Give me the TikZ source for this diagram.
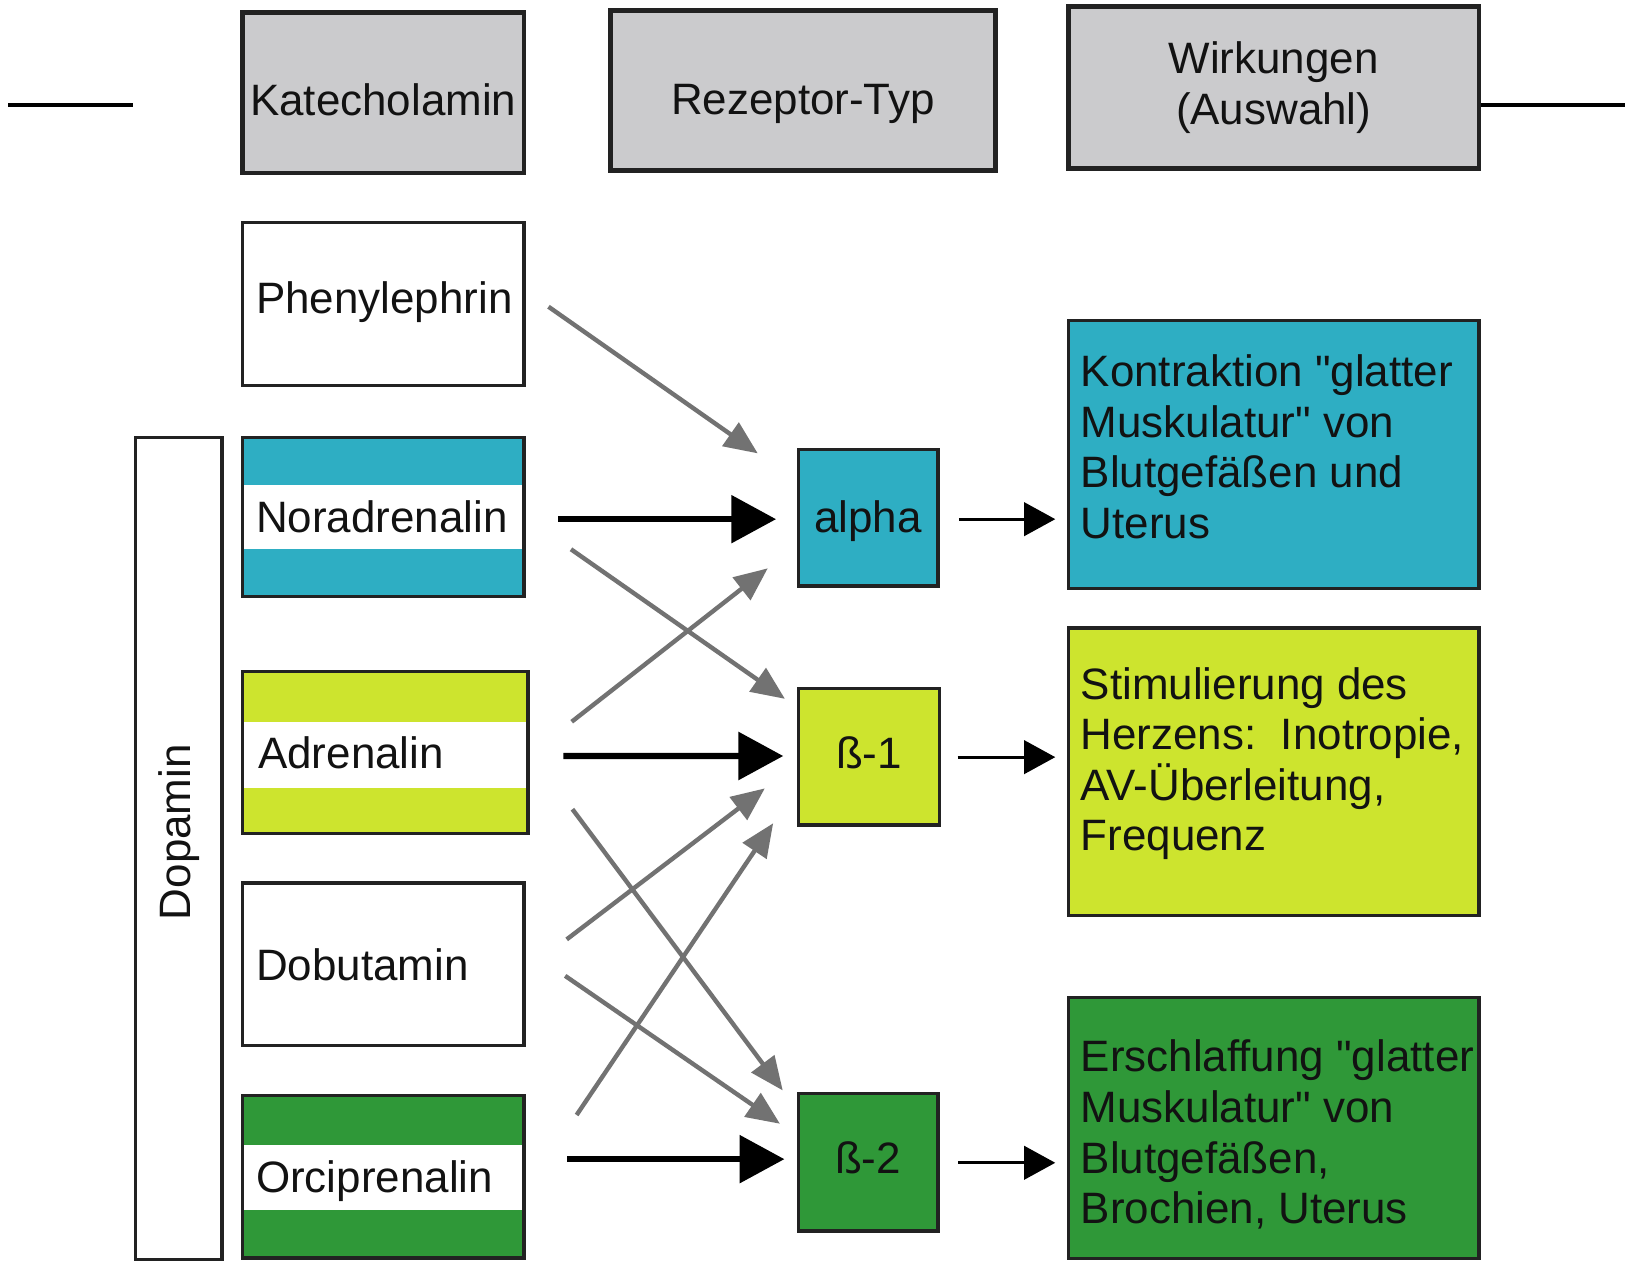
\documentclass[tikz,border=0pt]{standalone}
\usepackage{fontspec}
\setmainfont{Liberation Sans}
\newfontfamily\plainsans{Liberation Sans}
\usetikzlibrary{arrows.meta}
\definecolor{cteal}{HTML}{2EAEC3}
\definecolor{clime}{HTML}{CDE42E}
\definecolor{cgreen}{HTML}{2F9838}
\definecolor{chdr}{HTML}{CBCBCD}
\definecolor{carrow}{HTML}{727272}
\definecolor{cline}{HTML}{222222}
\tikzset{
  hdrbox/.style={draw=cline, line width=1.3pt, fill=chdr, inner sep=0pt},
  drugbox/.style={draw=cline, line width=0.9pt, fill=white, inner sep=0pt,
     minimum width=2.7cm, minimum height=1.56cm, text width=2.44cm, align=left,
     text height=0.30cm, text depth=0cm},
  stripes/.style n args={3}{path picture={
     \fill[#1] (path picture bounding box.north west) rectangle ([yshift=-#2]path picture bounding box.north east);
     \fill[#1] (path picture bounding box.south west) rectangle ([yshift=#3]path picture bounding box.south east);}},
  recbox/.style={draw=cline, line width=0.9pt, fill=#1, inner sep=0pt,
     minimum width=1.34cm, minimum height=1.31cm, text height=0.22cm, text depth=0cm},
  effbox/.style={draw=cline, line width=0.9pt, fill=#1, inner sep=0pt, minimum width=3.94cm},
  efftext/.style={inner sep=0pt, align=left, anchor=north west},
  blackthick/.style={draw=black, line width=1.7pt, -{Triangle[length=0.43cm,width=0.45cm]}},
  grayarr/.style={draw=carrow, line width=1.2pt, -{Triangle[length=0.32cm,width=0.27cm]}},
  blackthin/.style={draw=black, line width=0.9pt, -{Triangle[length=0.30cm,width=0.32cm]}},
  topline/.style={draw=black, line width=1pt}
}
\begin{document}
\begin{tikzpicture}[x=0.01cm,y=-0.01cm, font=\plainsans\fontsize{12pt}{13.8pt}\selectfont, text=black!93]
\useasboundingbox (0,0) rectangle (1568,1211);
\fill[white] (0,0) rectangle (1568,1211);

% headers
\node[hdrbox, minimum width=2.70cm, minimum height=1.54cm, text height=0.44cm, text depth=0cm] (kat) at (368,89) {Katecholamin};
\node[hdrbox, minimum width=3.70cm, minimum height=1.54cm, text height=0.46cm, text depth=0cm] (rez) at (771,87) {Rezeptor-Typ};
\node[hdrbox, minimum width=3.94cm, minimum height=1.56cm, align=center] (wirk) at (1223,84) {Wirkungen\\(Auswahl)};
\coordinate (lA) at (8,101);
\coordinate (lB) at (128,101);
\coordinate (rB) at (1560,101);
\draw[topline] (lA) -- (lB);
\draw[topline] ([shift={(0,17)}]wirk.east) -- (rB);

% Dopamin
\node[draw=cline, line width=0.9pt, fill=white, minimum width=0.83cm, minimum height=7.89cm, inner sep=0pt] (dopa) at (171.5,814.5) {};
\node[rotate=90, anchor=base, inner sep=0pt] (dopaT) at (183,799) {Dopamin};

% drugs
\node[drugbox, text height=0.18cm] (phen) at (368,292) {Phenylephrin};
\node[drugbox, stripes={cteal}{0.46cm}{0.46cm}, minimum height=1.53cm] (nor) at (368,496.5) {Noradrenalin};
\node[drugbox, stripes={clime}{0.48cm}{0.43cm}, minimum width=2.74cm, minimum height=1.55cm] (adr) at (370,722.5) {Adrenalin};
\node[drugbox] (dob) at (368,926) {Dobutamin};
\node[drugbox, stripes={cgreen}{0.47cm}{0.46cm}] (orc) at (368,1130) {Orciprenalin};

% receptors
\node[recbox=cteal, text height=0.28cm] (alpha) at (833.5,497) {alpha};
\node[recbox=clime, minimum width=1.35cm] (b1) at (834.5,726.5) {ß-1};
\node[recbox=cgreen, minimum height=1.32cm] (b2) at (833.5,1116) {ß-2};

% effects
\node[effbox=cteal, minimum height=2.57cm] (kon) at (1223,436.5) {};
\node[effbox=clime, minimum height=2.76cm] (sti) at (1223,741) {};
\node[effbox=cgreen, minimum height=2.50cm] (ers) at (1223,1083) {};
\node[efftext] (konT) at (1037,340) {Kontraktion "glatter\\Muskulatur" von\\Blutgefäßen und\\Uterus};
\node[efftext] (stiT) at (1037,640) {Stimulierung des\\Herzens:~~Inotropie,\\AV-Überleitung,\\Frequenz};
\node[efftext] (ersT) at (1037,998) {Erschlaffung "glatter\\Muskulatur" von\\Blutgefäßen,\\Brochien, Uterus};

% arrows
\draw[grayarr] ([shift={(22,2.5)}]phen.east) -- ([shift={(-37.3,-61.7)}]alpha.west);
\draw[blackthick] ([shift={(31.5,2)}]nor.east) -- ([shift={(-19.7,1.5)}]alpha.west);
\draw[grayarr] ([shift={(43.6,30.9)}]nor.east) -- ([shift={(-11.7,-55.5)}]b1.west);
\draw[grayarr] ([shift={(40.3,-29.5)}]adr.east) -- ([shift={(-27.7,48.7)}]alpha.west);
\draw[blackthick] ([shift={(32.3,3.4)}]adr.east) -- ([shift={(-13.3,-0.6)}]b1.west);
\draw[grayarr] ([shift={(41,54.5)}]adr.east) -- ([shift={(-13.3,-69)}]b2.west);
\draw[grayarr] ([shift={(39.5,-24)}]dob.east) -- ([shift={(-31,30.5)}]b1.west);
\draw[grayarr] ([shift={(38,11)}]dob.east) -- ([shift={(-16,-37)}]b2.west);
\draw[grayarr] ([shift={(49,-59.4)}]orc.east) -- ([shift={(-23,64)}]b1.west);
\draw[blackthick] ([shift={(40,-17)}]orc.east) -- ([shift={(-11.7,-3)}]b2.west);
\draw[blackthin] ([shift={(18.5,1.5)}]alpha.east) -- ([shift={(-11,62)}]kon.west);
\draw[blackthin] ([shift={(16,0.5)}]b1.east) -- ([shift={(-11,-14)}]sti.west);
\draw[blackthin] ([shift={(18,0.5)}]b2.east) -- ([shift={(-11,33.5)}]ers.west);
\end{tikzpicture}
\end{document}
